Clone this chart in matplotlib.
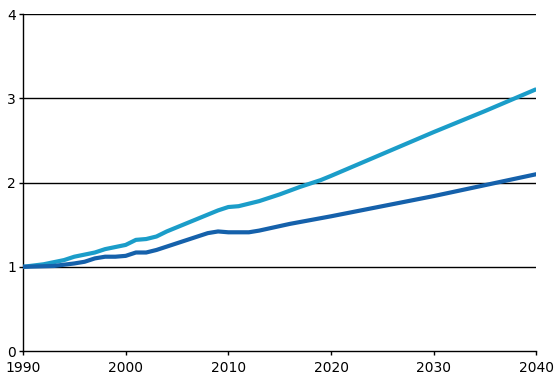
import matplotlib
matplotlib.use("Agg")
import matplotlib.pyplot as plt

# light series
years_a = [1990, 1992, 1994, 1995, 1997, 1998, 2000, 2001, 2002, 2003, 2004, 2006,
           2008, 2009, 2010, 2011, 2012, 2013, 2015, 2017, 2019, 2020, 2025, 2030,
           2035, 2040]
vals_a = [1.00, 1.03, 1.08, 1.12, 1.17, 1.21, 1.26, 1.32, 1.33, 1.36, 1.42, 1.52,
          1.62, 1.67, 1.71, 1.72, 1.75, 1.78, 1.86, 1.95, 2.03, 2.08, 2.34, 2.60,
          2.85, 3.11]

# dark series
years_b = [1990, 1993, 1995, 1996, 1997, 1998, 1999, 2000, 2001, 2002, 2003, 2004,
           2006, 2007, 2008, 2009, 2010, 2011, 2012, 2013, 2016, 2020, 2025, 2030,
           2035, 2040]
vals_b = [1.00, 1.01, 1.04, 1.06, 1.10, 1.12, 1.12, 1.13, 1.17, 1.17, 1.20, 1.24,
          1.32, 1.36, 1.40, 1.42, 1.41, 1.41, 1.41, 1.43, 1.51, 1.60, 1.72, 1.84,
          1.97, 2.10]

xticks = [1990, 2000, 2010, 2020, 2030, 2040]
yticks = [0, 1, 2, 3, 4]

plt.rcParams['font.family'] = ['Liberation Sans Narrow', 'DejaVu Sans']

fig = plt.figure(figsize=(5.55, 3.81), dpi=100)
ax = fig.add_axes([0.0414, 0.0787, 0.925, 0.884])

for y in yticks[1:]:
    ax.axhline(y, color='black', lw=1.0, zorder=1)

ax.plot(years_a, vals_a, color='#1b9dc9', lw=3, solid_capstyle='butt', zorder=3)
ax.plot(years_b, vals_b, color='#1561ab', lw=3, solid_capstyle='butt', zorder=3)

ax.set_xlim(1990, 2040)
ax.set_ylim(0, 4)
ax.set_xticks(xticks)
ax.set_yticks(yticks)
ax.tick_params(axis='both', length=3, width=1, color='black', labelsize=10)
ax.tick_params(axis='x', pad=4)
ax.tick_params(axis='y', pad=2)
ax.spines['top'].set_visible(False)
ax.spines['right'].set_visible(False)
ax.spines['left'].set_linewidth(1)
ax.spines['bottom'].set_linewidth(1)

fig.savefig('out.png', dpi=100)
